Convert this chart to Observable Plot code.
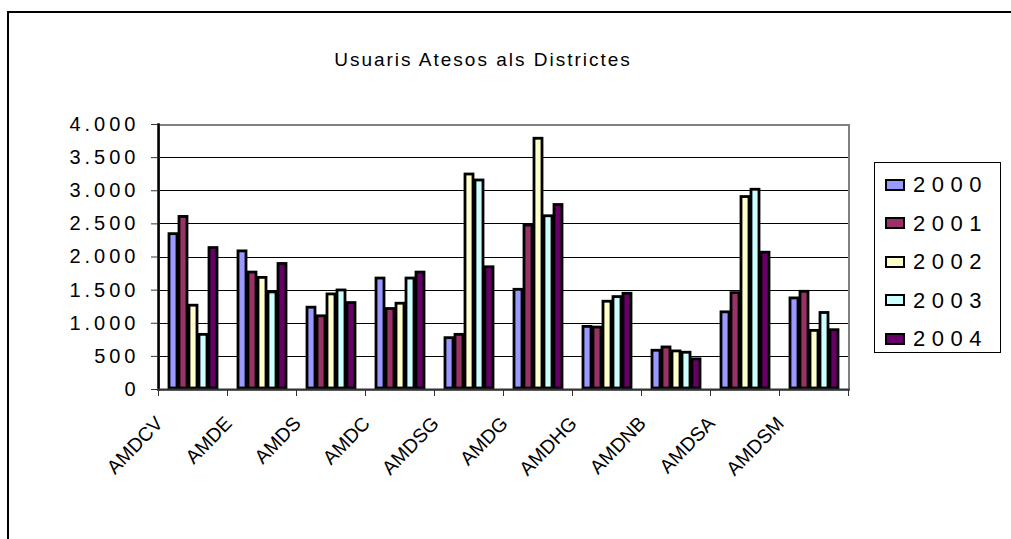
<!DOCTYPE html>
<html>
<head>
<meta charset="utf-8">
<script src="https://cdn.jsdelivr.net/npm/d3@7"></script>
<script src="https://cdn.jsdelivr.net/npm/@observablehq/plot@0.6"></script>
<style>
  body { margin: 0; background: #fff; }
  #wrap { position: relative; width: 1011px; height: 539px; overflow: hidden; font-family: "Liberation Sans", Arial, sans-serif; background: #fff; }
  #wrap svg { position: absolute; left: 0; top: 0; }
  #border { position: absolute; left: 7px; top: 11px; width: 1030px; height: 600px; border: 2px solid #000; box-sizing: border-box; }
  #title { position: absolute; left: 0; top: 50px; width: 966px; text-align: center; font-size: 19px; line-height: 19px; letter-spacing: 2px; color: #000; white-space: nowrap; }
  #legend { position: absolute; left: 874px; top: 162px; width: 127px; height: 191px; border: 1px solid #000; box-sizing: border-box; background: #fff; }
  .item { position: absolute; left: 0; height: 22px; }
  .sw { position: absolute; left: 10px; width: 20px; height: 12px; border: 2px solid #000; box-sizing: border-box; }
  .lb { position: absolute; left: 38px; font-size: 22px; line-height: 22px; letter-spacing: 6.5px; white-space: nowrap; color: #000; }
  g[aria-label="y-axis tick label"] { letter-spacing: 4px; }
</style>
</head>
<body>
<div id="wrap">
  <div id="border"></div>
  <div id="title"></div>
  <div id="legend"></div>
</div>
<script>
const districts = ["AMDCV", "AMDE", "AMDS", "AMDC", "AMDSG", "AMDG", "AMDHG", "AMDNB", "AMDSA", "AMDSM"];
const years = ["2000", "2001", "2002", "2003", "2004"];
const v2000 = [2360, 2100, 1250, 1690, 790, 1520, 960, 600, 1180, 1390];
const v2001 = [2620, 1780, 1120, 1230, 840, 2490, 950, 650, 1470, 1490];
const v2002 = [1280, 1700, 1450, 1310, 3260, 3800, 1340, 590, 2920, 900];
const v2003 = [840, 1480, 1510, 1690, 3170, 2630, 1410, 570, 3030, 1170];
const v2004 = [2150, 1910, 1320, 1780, 1860, 2800, 1460, 470, 2080, 910];
const colors = ["#9999FF", "#993366", "#FFFFCC", "#CCFFFF", "#660066"];
const yTicks = [0, 500, 1000, 1500, 2000, 2500, 3000, 3500, 4000];
const yTickLabels = ["0", "500", "1.000", "1.500", "2.000", "2.500", "3.000", "3.500", "4.000"];
const titleText = "Usuaris Atesos als Districtes";

const series = [v2000, v2001, v2002, v2003, v2004];
const data = [];
districts.forEach((d, i) => years.forEach((y, j) => data.push({district: d, year: y, value: series[j][i]})));

const W = 1011, H = 539, mL = 158, mR = 163, mT = 124, mB = 150;
const step = (W - mL - mR) / districts.length;

const chart = Plot.plot({
  width: W, height: H,
  marginLeft: mL, marginRight: mR, marginTop: mT, marginBottom: mB,
  style: {fontFamily: "'Liberation Sans', Arial, sans-serif", fontSize: "20px", background: "transparent", color: "#000"},
  fx: {domain: districts, padding: 0, axis: null, label: null},
  x: {domain: years, type: "band", paddingInner: 0, paddingOuter: 0.75, axis: null},
  y: {domain: [0, 4000], axis: null},
  color: {domain: years, range: colors},
  marks: [
    Plot.ruleY(yTicks.filter(v => v > 0 && v < 4000), {stroke: "#000", strokeWidth: 1, shapeRendering: "crispEdges"}),
    Plot.frame({facet: "super", stroke: "#808080", strokeWidth: 2, shapeRendering: "crispEdges"}),
    Plot.barY(data, {fx: "district", x: "year", y: "value", fill: "year", stroke: "#000", strokeWidth: 2.8, inset: 1}),
    Plot.frame({facet: "super", anchor: "left", stroke: "#000", strokeWidth: 2.5}),
    Plot.frame({facet: "super", anchor: "bottom", stroke: "#333", strokeWidth: 2}),
    Plot.axisY({ticks: yTicks, tickFormat: d => yTickLabels[yTicks.indexOf(d)], tickSize: 7, tickPadding: 12, fontSize: 20, stroke: "#333", label: null}),
    Plot.axisFx({anchor: "bottom", tickSize: 7, tickFormat: () => "", dx: -step / 2, stroke: "#333", label: null}),
    Plot.axisFx({anchor: "bottom", ticks: [districts[districts.length - 1]], tickSize: 7, tickFormat: () => "", dx: step / 2, stroke: "#333", label: null}),
    Plot.text(districts, {fx: d => d, text: d => d, frameAnchor: "bottom", textAnchor: "end", lineAnchor: "bottom", rotate: -46, dx: -29, dy: 35, fontSize: 19.5, fill: "#000"})
  ]
});
document.getElementById("wrap").insertBefore(chart, document.getElementById("title"));

document.getElementById("title").textContent = titleText;
const legend = document.getElementById("legend");
years.forEach((y, i) => {
  const item = document.createElement("div");
  item.className = "item";
  item.style.top = (11 + i * 38.5) + "px";
  const sw = document.createElement("div");
  sw.className = "sw";
  sw.style.background = colors[i];
  sw.style.top = "4.5px";
  const lb = document.createElement("div");
  lb.className = "lb";
  lb.style.top = "0px";
  lb.textContent = y;
  item.appendChild(sw);
  item.appendChild(lb);
  legend.appendChild(item);
});
</script>
</body>
</html>
